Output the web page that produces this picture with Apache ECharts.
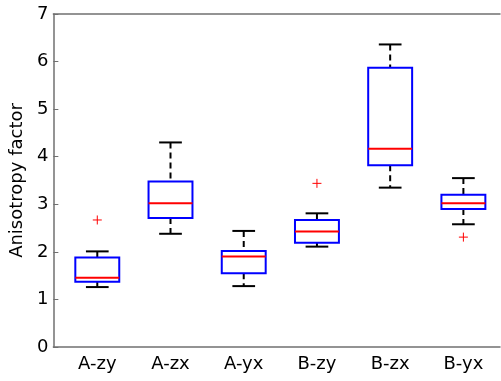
<!DOCTYPE html>
<html><head><meta charset="utf-8">
<script src="https://cdn.jsdelivr.net/npm/echarts@6/dist/echarts.min.js"></script>
<style>html,body{margin:0;padding:0;background:#fff}#c{width:501px;height:381px}</style>
</head><body><div id="c"></div>
<script>
const categories = ['A-zy','A-zx','A-yx','B-zy','B-zx','B-yx'];
const whiskerLow  = [1.26, 2.38, 1.28, 2.11, 3.35, 2.58];
const q1          = [1.37, 2.71, 1.55, 2.19, 3.82, 2.90];
const median      = [1.455,3.02, 1.90, 2.43, 4.17, 3.02];
const q3          = [1.88, 3.48, 2.02, 2.67, 5.87, 3.20];
const whiskerHigh = [2.01, 4.30, 2.44, 2.81, 6.36, 3.55];
const outlierCat  = ['A-zy','B-zy','B-yx'];
const outlierVal  = [2.67, 3.44, 2.31];
const yTickValues = [0,1,2,3,4,5,6,7];

const boxData = categories.map((c,i)=>[i+1, whiskerLow[i], q1[i], median[i], q3[i], whiskerHigh[i]]);
const outData = outlierCat.map((c,i)=>[categories.indexOf(c)+1, outlierVal[i]]);
const FONT = '"DejaVu Sans", Arial, Helvetica, sans-serif';

const chart = echarts.init(document.getElementById('c'), null, {renderer:'canvas'});
chart.setOption({
  animation:false,
  backgroundColor:'#fff',
  grid:{left:52, right:1, top:14, bottom:34, containLabel:false},
  xAxis:[{
    type:'value', min:0.4, max:6.5, position:'bottom',
    splitLine:{show:false},
    axisLine:{show:true, lineStyle:{color:'#707070', width:1.5}},
    axisTick:{show:false},
    axisLabel:{show:true, customValues:[1,2,3,4,5,6], margin:8,
      formatter:v=>categories[Math.round(v)-1] || '',
      color:'#000', fontSize:18, fontFamily:FONT}
  },{
    type:'value', min:0.4, max:6.5, position:'top',
    splitLine:{show:false},
    axisLine:{show:true, lineStyle:{color:'#707070', width:1.5}},
    axisTick:{show:false}, axisLabel:{show:false}
  }],
  yAxis:{
    type:'value', min:0, max:7, interval:1,
    name:'Anisotropy factor', nameLocation:'middle', nameGap:22,
    nameTextStyle:{color:'#000', fontSize:18, fontFamily:FONT},
    splitLine:{show:false},
    axisLine:{show:true, lineStyle:{color:'#707070', width:1.5}},
    axisTick:{show:true, inside:true, length:5, lineStyle:{color:'#707070', width:1}},
    axisLabel:{color:'#000', fontSize:18, fontFamily:FONT, margin:5,
      customValues:yTickValues}
  },
  series:[{
    type:'custom',
    data:boxData,
    encode:{x:0, y:[1,2,3,4,5]},
    renderItem:function(params, api){
      const x = api.value(0);
      const pLo = api.coord([x, api.value(1)]);
      const pQ1 = api.coord([x, api.value(2)]);
      const pMed = api.coord([x, api.value(3)]);
      const pQ3 = api.coord([x, api.value(4)]);
      const pHi = api.coord([x, api.value(5)]);
      const bw = api.size([0.6, 0])[0];
      const cw = api.size([0.31, 0])[0];
      const cx = pQ1[0];
      const blk = {stroke:'#000', lineWidth:2, lineDash:[6,4]};
      const cap = {stroke:'#000', lineWidth:2};
      return {type:'group', children:[
        {type:'line', shape:{x1:cx, y1:pHi[1], x2:cx, y2:pQ3[1]}, style:blk},
        {type:'line', shape:{x1:cx, y1:pQ1[1], x2:cx, y2:pLo[1]}, style:blk},
        {type:'line', shape:{x1:cx-cw/2, y1:pHi[1], x2:cx+cw/2, y2:pHi[1]}, style:cap},
        {type:'line', shape:{x1:cx-cw/2, y1:pLo[1], x2:cx+cw/2, y2:pLo[1]}, style:cap},
        {type:'rect', shape:{x:cx-bw/2, y:pQ3[1], width:bw, height:pQ1[1]-pQ3[1]},
          style:{fill:'none', stroke:'#0000ff', lineWidth:2}},
        {type:'line', shape:{x1:cx-bw/2, y1:pMed[1], x2:cx+bw/2, y2:pMed[1]},
          style:{stroke:'#ff0000', lineWidth:2}}
      ]};
    }
  },{
    type:'custom',
    data:outData,
    encode:{x:0, y:1},
    renderItem:function(params, api){
      const p = api.coord([api.value(0), api.value(1)]);
      const h = 4.5;
      const st = {stroke:'#ff0000', lineWidth:1};
      return {type:'group', children:[
        {type:'line', shape:{x1:p[0]-h, y1:p[1], x2:p[0]+h, y2:p[1]}, style:st},
        {type:'line', shape:{x1:p[0], y1:p[1]-h, x2:p[0], y2:p[1]+h}, style:st}
      ]};
    }
  }]
});
</script></body></html>
